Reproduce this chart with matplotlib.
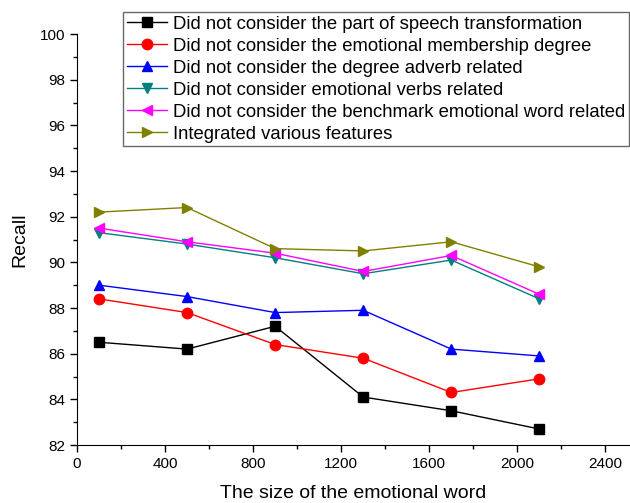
import matplotlib.pyplot as plt
from matplotlib.ticker import MultipleLocator

plt.rcParams["font.family"] = ["Liberation Sans", "DejaVu Sans"]

sizes = [100, 500, 900, 1300, 1700, 2100]
no_pos = [86.5, 86.2, 87.2, 84.1, 83.5, 82.7]
no_membership = [88.4, 87.8, 86.4, 85.8, 84.3, 84.9]
no_adverb = [89.0, 88.5, 87.8, 87.9, 86.2, 85.9]
no_verbs = [91.3, 90.8, 90.2, 89.5, 90.1, 88.4]
no_benchmark = [91.5, 90.9, 90.4, 89.6, 90.3, 88.6]
integrated = [92.2, 92.4, 90.6, 90.5, 90.9, 89.8]

labels = [
    "Did not consider the part of speech transformation",
    "Did not consider the emotional membership degree",
    "Did not consider the degree adverb related",
    "Did not consider emotional verbs related",
    "Did not consider the benchmark emotional word related",
    "Integrated various features",
]

fig = plt.figure(figsize=(6.3, 5.03), dpi=100)
ax = fig.add_axes([0.1222, 0.1153, 0.8755, 0.8171])

series = [no_pos, no_membership, no_adverb, no_verbs, no_benchmark, integrated]
colors = ["black", "red", "blue", "#008080", "magenta", "#808000"]
markers = ["s", "o", "^", "v", "<", ">"]
for ys, c, m, lab in zip(series, colors, markers, labels):
    ax.plot(sizes, ys, color=c, marker=m, markersize=7.5, linewidth=1, label=lab)

ax.set_xlim(0, 2505)
ax.set_ylim(82, 100)
ax.xaxis.set_major_locator(MultipleLocator(400))
ax.xaxis.set_minor_locator(MultipleLocator(200))
ax.yaxis.set_major_locator(MultipleLocator(2))
ax.yaxis.set_minor_locator(MultipleLocator(1))
ax.spines["top"].set_visible(False)
ax.spines["right"].set_visible(False)
ax.tick_params(which="major", direction="out", length=5, width=1, labelsize=11)
ax.tick_params(which="minor", direction="out", length=3, width=1)
ax.set_xlabel("The size of the emotional word", fontsize=14, labelpad=10)
ax.set_ylabel("Recall", fontsize=14, labelpad=8)

leg = ax.legend(loc="upper right", bbox_to_anchor=(0.998, 0.976), bbox_transform=fig.transFigure,
                fontsize=13.3, frameon=True, fancybox=False, borderpad=0.2,
                labelspacing=0.27, handlelength=2.2, handletextpad=0.3, borderaxespad=0)
leg.get_frame().set_edgecolor("#444444")
leg.get_frame().set_linewidth(1)

fig.savefig("out.png", dpi=100)
